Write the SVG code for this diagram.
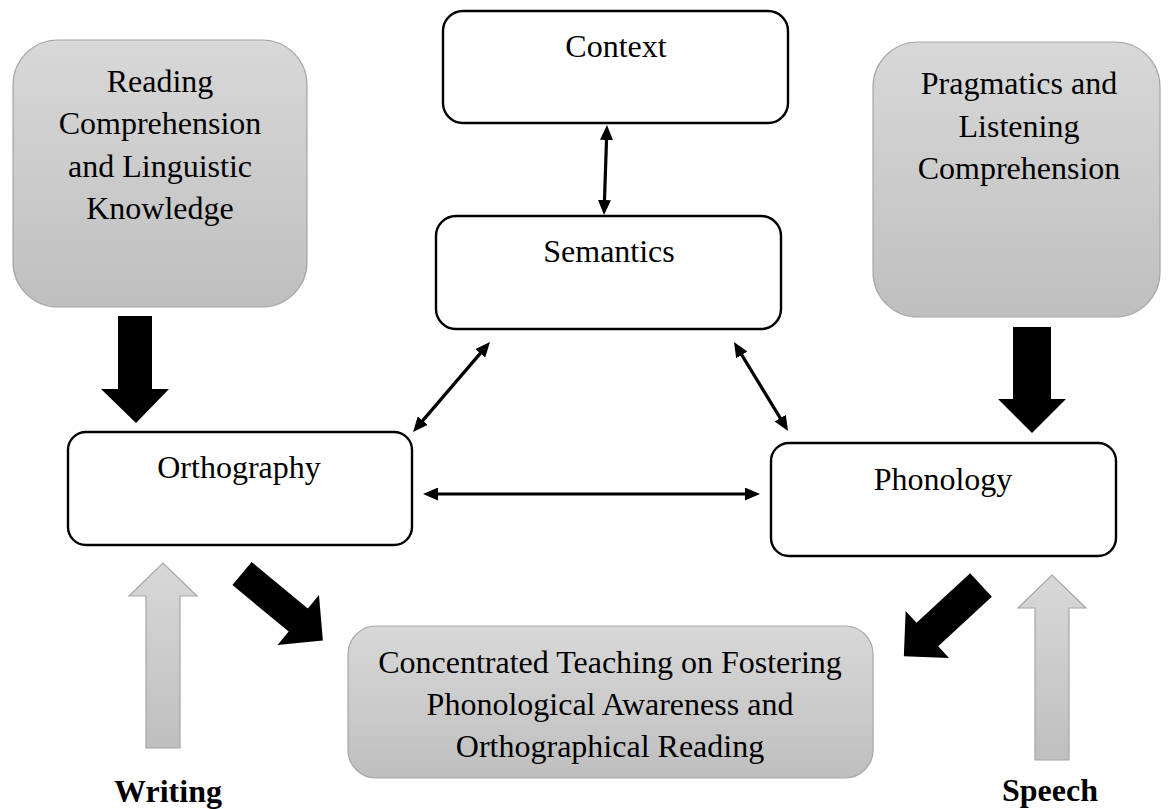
<svg xmlns="http://www.w3.org/2000/svg" width="1168" height="809" viewBox="0 0 1168 809">
<defs>
  <linearGradient id="gray" x1="0" y1="0" x2="0" y2="1">
    <stop offset="0" stop-color="#d8d8d8"/>
    <stop offset="1" stop-color="#bfbfbf"/>
  </linearGradient>
  <marker id="ah" viewBox="0 0 15 13" markerUnits="userSpaceOnUse" markerWidth="15" markerHeight="13" refX="3" refY="6.5" orient="auto-start-reverse">
    <path d="M0,0 L15,6.5 L0,13 z" fill="#000"/>
  </marker>
  <style>
    .t{font-family:"Liberation Serif","Times New Roman",serif;font-size:32px;fill:#000;text-anchor:middle}
    .b{font-weight:bold}
    .wbox{fill:#fff;stroke:#000;stroke-width:2.4}
    .gbox{fill:url(#gray);stroke:#a6a6a6;stroke-width:1.2}
    .conn{stroke:#000;stroke-width:3.2;fill:none;marker-start:url(#ah);marker-end:url(#ah)}
    .blk{fill:#000}
    .garr{fill:url(#gray);stroke:#a6a6a6;stroke-width:1.2}
  </style>
</defs>
<rect width="1168" height="809" fill="#fff"/>

<g id="reading">
  <rect class="gbox" x="13" y="40" width="294" height="267" rx="45" ry="45"/>
  <text class="t" x="160" y="92">Reading</text>
  <text class="t" x="160" y="134">Comprehension</text>
  <text class="t" x="160" y="177">and Linguistic</text>
  <text class="t" x="160" y="219">Knowledge</text>
</g>

<g id="pragmatics">
  <rect class="gbox" x="873" y="42" width="287" height="275" rx="45" ry="45"/>
  <text class="t" x="1019" y="94">Pragmatics and</text>
  <text class="t" x="1019" y="137">Listening</text>
  <text class="t" x="1019" y="179">Comprehension</text>
</g>

<g id="context">
  <rect class="wbox" x="443" y="11" width="345" height="112" rx="20" ry="20"/>
  <text class="t" x="616" y="57">Context</text>
</g>

<g id="semantics">
  <rect class="wbox" x="436" y="216" width="345" height="113" rx="20" ry="20"/>
  <text class="t" x="609" y="262">Semantics</text>
</g>

<g id="orthography">
  <rect class="wbox" x="68" y="432" width="344" height="113" rx="18" ry="18"/>
  <text class="t" x="239" y="478">Orthography</text>
</g>

<g id="phonology">
  <rect class="wbox" x="771" y="443" width="345" height="113" rx="18" ry="18"/>
  <text class="t" x="943" y="490">Phonology</text>
</g>

<g id="teaching">
  <rect class="gbox" x="348" y="626" width="525" height="152" rx="28" ry="28"/>
  <text class="t" x="610" y="673">Concentrated Teaching on Fostering</text>
  <text class="t" x="610" y="715">Phonological Awareness and</text>
  <text class="t" x="610" y="757">Orthographical Reading</text>
</g>

<g id="writing">
  <polygon class="garr" points="146,748 180,748 180,596 197,596 163,563 129,596 146,596"/>
  <text class="t b" x="168" y="802">Writing</text>
</g>

<g id="speech">
  <polygon class="garr" points="1035,760 1069,760 1069,608 1086,608 1052,575 1018,608 1035,608"/>
  <text class="t b" x="1050" y="801">Speech</text>
</g>

<g id="connectors">
  <line class="conn" x1="606.6" y1="137" x2="604.4" y2="203"/>
  <line class="conn" x1="420.8" y1="422.9" x2="482.2" y2="351.1"/>
  <line class="conn" x1="740.2" y1="352.3" x2="781.8" y2="420.7"/>
  <line class="conn" x1="435" y1="494" x2="748" y2="494"/>
  <polygon class="blk" points="118,316 152,316 152,389 169,389 136,423 101,389 118,389"/>
  <polygon class="blk" points="1013,327 1051,327 1051,399 1066,399 1032,433 998,399 1013,399"/>
  <polygon class="blk" transform="translate(242,573.5) rotate(39.6)" points="0,-15 73,-15 73,-32.5 105,0 73,32.5 73,15 0,15"/>
  <polygon class="blk" transform="translate(981,585) rotate(137.3)" points="0,-16 73,-16 73,-32 105,0 73,32 73,16 0,16"/>
</g>
</svg>
